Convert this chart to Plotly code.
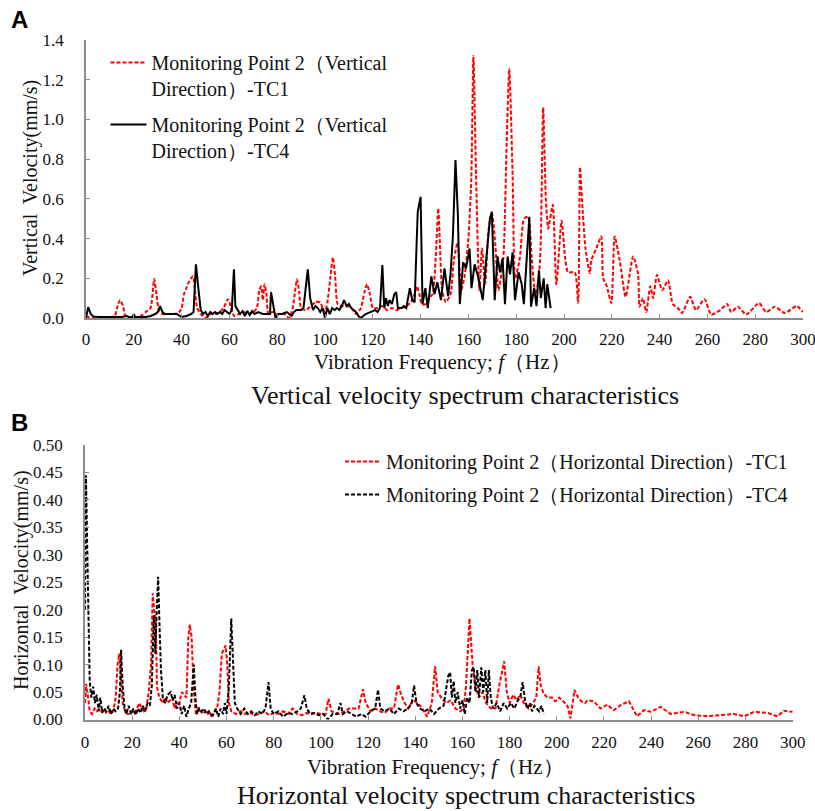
import plotly.graph_objects as go

W, H = 815, 811

# ---------------- data ----------------
# Panel A: vertical velocity spectra
v_tc1_freq = [0, 1, 3, 6, 10, 12, 13, 14.2, 15.5, 16.5,
              18, 20, 23, 25, 27, 28.5, 29.5, 30.5, 32, 35,
              37, 39, 40, 41, 42, 43, 44, 44.8, 45.5, 46.5,
              48, 50, 52, 54, 56, 57.5, 59.4, 60.5, 62, 64,
              66, 68, 70, 71.5, 72.5, 73.3, 74, 74.7, 75.5, 76.3,
              78, 80, 83, 85, 86.5, 87.3, 88.3, 89.2, 90, 92,
              94, 96, 98, 99, 100, 101, 102.2, 103.3, 104.3, 105.3,
              107, 109, 111, 113, 115, 116.5, 117.6, 118.8, 120, 122,
              124, 126, 128, 130, 132, 134, 136, 137.5, 138.5, 139.5,
              140.5, 142, 143.5, 145, 146.3, 147.4, 148.3, 149, 150.5, 152.5,
              154, 155.5, 157, 158.5, 160, 161.2, 162.1, 163.2, 164.6, 165.7,
              167, 168.4, 169.8, 171.2, 172.6, 174.6, 176, 177.1, 178.5, 179.6,
              181.5, 183.3, 185, 186.5, 188, 189.4, 190.2, 191.3, 192.4, 193.4,
              195.3, 196.8, 199, 200.5, 201.7, 204.5, 205.9, 206.7, 207.5, 209,
              210.8, 211.4, 213.5, 215.6, 216.4, 217.9, 219.8, 221.2, 223.3, 225.8,
              228.9, 231, 231.6, 233, 234.4, 236.1, 237.3, 238.9, 241.1, 243.5,
              245.5, 247.6, 249.4, 252.8, 255.2, 258.8, 261.6, 265.4, 268.2, 270,
              272.8, 276.2, 281.6, 284.6, 288.2, 292.4, 297.3, 300]
v_tc1_vel = [0.01, 0.005, 0.003, 0.003, 0.004, 0.01, 0.05, 0.09, 0.06, 0.01,
             0.0, 0.002, 0.01, 0.03, 0.05, 0.196, 0.12, 0.04, 0.02, 0.02,
             0.02, 0.03, 0.05, 0.12, 0.15, 0.18, 0.2, 0.21, 0.15, 0.05,
             0.02, 0.0, 0.02, 0.02, 0.03, 0.05, 0.095, 0.06, 0.01, 0.02,
             0.03, 0.02, 0.03, 0.05, 0.14, 0.16, 0.09, 0.17, 0.12, 0.02,
             0.03, 0.02, 0.02, 0.0, 0.05, 0.12, 0.195, 0.13, 0.05, 0.04,
             0.06, 0.08, 0.08, 0.05, 0.03, 0.08, 0.2, 0.305, 0.2, 0.07,
             0.06, 0.06, 0.05, 0.02, 0.05, 0.13, 0.17, 0.12, 0.05, 0.05,
             0.06, 0.04, 0.05, 0.04, 0.05, 0.06, 0.08, 0.12, 0.16, 0.12,
             0.07, 0.07, 0.1, 0.12, 0.3, 0.552, 0.3, 0.14, 0.08, 0.12,
             0.3, 0.38, 0.14, 0.22, 0.4, 0.7, 1.32, 0.72, 0.14, 0.35,
             0.17, 0.44, 0.53, 0.38, 0.14, 0.3, 0.88, 1.255, 0.72, 0.2,
             0.3, 0.5, 0.51, 0.3, 0.12, 0.2, 0.35, 1.06, 0.6, 0.45,
             0.57, 0.17, 0.49, 0.3, 0.23, 0.23, 0.075, 0.76, 0.6, 0.35,
             0.225, 0.29, 0.35, 0.41, 0.2, 0.16, 0.075, 0.41, 0.29, 0.107,
             0.31, 0.22, 0.057, 0.1, 0.03, 0.16, 0.1, 0.217, 0.14, 0.19,
             0.07, 0.05, 0.025, 0.107, 0.04, 0.095, 0.017, 0.04, 0.07, 0.03,
             0.057, 0.017, 0.075, 0.03, 0.057, 0.025, 0.06, 0.03]

v_tc4_freq = [0, 0.9, 2, 3, 5, 10, 15, 17, 18, 19.5,
              20, 20.5, 25, 27, 29, 30, 31, 32, 33, 38,
              40, 42, 44, 45, 46, 47, 48, 49, 50, 51,
              52, 53, 54, 55, 56, 57, 58, 59, 60, 61,
              61.9, 62.5, 63.5, 64.5, 65.5, 66.5, 67.5, 68.5, 69.5, 70.5,
              72, 74, 76, 77, 77.4, 78.5, 79.3, 80.5, 82, 84,
              86, 87, 88, 90, 91, 92.8, 93.8, 95, 96, 97,
              98, 99, 100, 101, 102, 103, 104, 105, 106, 107,
              108, 109, 110, 111, 112, 113, 114, 115, 117, 119,
              121, 122, 123, 124, 124.8, 125.5, 126.3, 127, 128, 129,
              129.8, 130.5, 132, 133, 134, 135.5, 136.5, 137.5, 138.8, 140,
              140.8, 142, 143, 144.5, 145.8, 147, 148.5, 150, 151.5, 152.5,
              153.5, 154.6, 155.6, 156.4, 157.8, 159, 160.5, 161.3, 162.6, 164,
              166, 167.5, 169, 169.8, 171, 172.2, 173.2, 174.3, 175.3, 176.4,
              177.4, 178.5, 179.5, 181, 182.3, 183.2, 185.5, 186.2, 187.5, 188.5,
              189.5, 190.3, 191.5, 192.3, 193, 194.4]
v_tc4_vel = [0.0, 0.055, 0.02, 0.008, 0.005, 0.005, 0.005, 0.01, 0.005, 0.005,
             0.02, 0.005, 0.005, 0.01, 0.02, 0.03, 0.06, 0.03, 0.02, 0.02,
             0.005, 0.01, 0.02, 0.03, 0.27, 0.15, 0.04, 0.02, 0.03, 0.01,
             0.03, 0.02, 0.03, 0.02, 0.03, 0.02, 0.04, 0.03, 0.02, 0.04,
             0.245, 0.06, 0.04, 0.02, 0.035, 0.01, 0.035, 0.015, 0.035, 0.02,
             0.03, 0.02, 0.02, 0.02, 0.13, 0.06, 0.0, 0.02, 0.02, 0.03,
             0.01, 0.03, 0.04, 0.04, 0.05, 0.245, 0.1, 0.04, 0.06, 0.05,
             0.03, 0.05, 0.0, 0.05, 0.02, 0.05, 0.04, 0.05, 0.04, 0.06,
             0.09, 0.06, 0.07, 0.05, 0.04, 0.03, 0.01, 0.0, 0.02, 0.03,
             0.04, 0.03, 0.05, 0.267, 0.05, 0.1, 0.06, 0.09, 0.07, 0.12,
             0.13, 0.05, 0.05, 0.06, 0.05, 0.15, 0.09, 0.08, 0.535, 0.61,
             0.07, 0.15, 0.05, 0.21, 0.12, 0.18, 0.09, 0.25, 0.11, 0.22,
             0.41, 0.795, 0.52, 0.07, 0.28, 0.25, 0.35, 0.15, 0.27, 0.21,
             0.09, 0.3, 0.5, 0.535, 0.09, 0.31, 0.23, 0.3, 0.07, 0.31,
             0.22, 0.33, 0.09, 0.23, 0.17, 0.07, 0.51, 0.057, 0.15, 0.06,
             0.24, 0.1, 0.2, 0.05, 0.17, 0.05]

# Panel B: horizontal velocity spectra
h_tc1_freq = [0, 0.5, 1.3, 2, 3, 4, 5, 6, 7, 8,
              9, 10, 11, 12, 13, 13.8, 14.5, 15.2, 16, 17,
              18, 19, 20, 21, 22, 23, 24, 25, 26, 27,
              28, 28.7, 29.3, 30, 30.5, 31.5, 33, 34, 35, 36,
              37, 38, 39, 40, 41, 42, 43, 43.8, 44.4, 45.2,
              46, 47, 48, 49, 50, 51, 52, 53, 54, 55,
              56, 57, 58, 59.6, 60.3, 61, 62, 64, 66, 68,
              70, 72, 74, 76, 78, 80, 82, 84, 86, 88,
              90, 92, 94, 96, 98, 100, 102, 103.2, 104.5, 106,
              108, 110, 112, 114, 116, 117.8, 119, 121, 123, 125,
              127, 129, 131, 132.7, 134, 135.5, 137, 139, 141, 143,
              145, 147, 148.4, 149.5, 151, 153, 155, 157, 159, 160.5,
              161.5, 163, 164.3, 165.5, 167, 168.5, 170, 172, 174, 175.5,
              177.7, 178.8, 180, 181.5, 183, 184.5, 186, 188, 190, 191.3,
              192.3, 193.3, 194.5, 196, 198, 199.4, 201, 202.8, 204.5, 205.8,
              207.5, 209, 210.5, 212, 213, 215.7, 218.5, 221.4, 224.2, 227.3,
              230.6, 234, 237, 239.8, 244, 248.3, 254, 258.2, 263.8, 269.5,
              275, 279.5, 283.6, 289.3, 293.5, 296.3, 300]
h_tc1_vel = [0.03, 0.065, 0.04, 0.015, 0.01, 0.02, 0.015, 0.02, 0.015, 0.02,
             0.012, 0.015, 0.01, 0.015, 0.04, 0.1, 0.12, 0.08, 0.03, 0.015,
             0.01, 0.01, 0.015, 0.01, 0.02, 0.03, 0.02, 0.015, 0.02, 0.05,
             0.1, 0.23, 0.2, 0.18, 0.06, 0.04, 0.03, 0.04, 0.03, 0.035,
             0.04, 0.02, 0.03, 0.03, 0.05, 0.045, 0.04, 0.15, 0.173, 0.15,
             0.06, 0.01, 0.02, 0.015, 0.01, 0.015, 0.01, 0.012, 0.005, 0.015,
             0.02, 0.05, 0.12, 0.135, 0.1, 0.03, 0.015, 0.01, 0.015, 0.01,
             0.012, 0.008, 0.01, 0.015, 0.008, 0.012, 0.01, 0.015, 0.01, 0.02,
             0.01, 0.008, 0.012, 0.01, 0.012, 0.01, 0.01, 0.038, 0.015, 0.012,
             0.01, 0.015, 0.02, 0.02, 0.02, 0.055, 0.03, 0.015, 0.02, 0.015,
             0.012, 0.02, 0.02, 0.064, 0.045, 0.03, 0.02, 0.035, 0.03, 0.02,
             0.005, 0.03, 0.097, 0.05, 0.04, 0.03, 0.035, 0.02, 0.015, 0.02,
             0.06, 0.184, 0.1, 0.06, 0.04, 0.05, 0.03, 0.02, 0.02, 0.06,
             0.106, 0.05, 0.03, 0.045, 0.035, 0.045, 0.03, 0.02, 0.03, 0.04,
             0.097, 0.06, 0.047, 0.04, 0.04, 0.033, 0.04, 0.033, 0.025, 0.002,
             0.054, 0.04, 0.033, 0.03, 0.035, 0.033, 0.02, 0.027, 0.017, 0.027,
             0.033, 0.006, 0.017, 0.014, 0.023, 0.01, 0.014, 0.008, 0.006, 0.008,
             0.01, 0.006, 0.014, 0.012, 0.006, 0.016, 0.014]

h_tc4_freq = [0, 0.4, 1, 1.5, 2, 2.7, 3.5, 4.2, 5, 5.8,
              6.5, 7.3, 8, 9, 10, 11, 12, 13, 14, 14.8,
              15.3, 16, 16.8, 17.5, 18.5, 19.5, 20.5, 21.5, 22.5, 23.5,
              24.5, 25.5, 26.5, 27.5, 28.3, 29.2, 29.8, 30.3, 31, 31.6,
              32.2, 33, 34, 35, 36.3, 37.2, 38, 39, 40, 41,
              42, 43, 44, 45, 45.6, 46.1, 46.8, 47.5, 48.5, 49.5,
              50.5, 51.5, 52.5, 53.5, 54.5, 55.5, 56.5, 57.5, 58.5, 59.3,
              60, 61, 62, 62.7, 63.5, 64.5, 66, 67.5, 69, 70.5,
              72, 73.5, 75, 76.5, 77.8, 78.7, 80, 82, 84, 86,
              88, 90, 91.5, 93, 94, 95.5, 97, 99, 101, 103,
              105, 107, 108.3, 109.3, 111, 113, 115, 117, 119, 121,
              123, 124.2, 125.2, 127, 129, 131, 133, 135, 137, 138.5,
              139.5, 140.5, 142, 144, 146, 148, 150, 152, 153, 154,
              154.8, 155.5, 156.3, 157, 158, 159, 160, 161, 162, 163,
              164, 164.8, 165.5, 166.3, 167, 168, 168.8, 169.7, 170.5, 171.2,
              172, 173, 174.5, 176, 177.5, 179, 180.5, 182, 183.5, 184.5,
              185.5, 186.5, 187.5, 188.5, 189.5, 190.5, 191.5, 192.5, 193.5, 194.5]
h_tc4_vel = [0.2, 0.445, 0.3, 0.15, 0.07, 0.04, 0.06, 0.03, 0.045, 0.015,
             0.04, 0.012, 0.02, 0.015, 0.025, 0.01, 0.02, 0.015, 0.02, 0.05,
             0.127, 0.06, 0.02, 0.01, 0.025, 0.01, 0.02, 0.008, 0.02, 0.012,
             0.025, 0.015, 0.03, 0.025, 0.06, 0.19, 0.12, 0.19, 0.26, 0.17,
             0.09, 0.04, 0.03, 0.045, 0.05, 0.035, 0.045, 0.02, 0.03, 0.01,
             0.025, 0.005, 0.02, 0.03, 0.06, 0.1, 0.04, 0.01, 0.02, 0.015,
             0.02, 0.01, 0.015, 0.008, 0.01, 0.02, 0.005, 0.02, 0.01, 0.03,
             0.01, 0.06, 0.184, 0.1, 0.03, 0.02, 0.01, 0.02, 0.01, 0.015,
             0.008, 0.015, 0.01, 0.02, 0.068, 0.02, 0.01, 0.015, 0.005, 0.012,
             0.01, 0.015, 0.02, 0.044, 0.02, 0.01, 0.012, 0.008, 0.01, 0.0,
             0.01, 0.01, 0.03, 0.01, 0.015, 0.01, 0.005, 0.01, 0.005, 0.015,
             0.02, 0.054, 0.02, 0.015, 0.02, 0.01, 0.02, 0.015, 0.02, 0.03,
             0.062, 0.03, 0.02, 0.015, 0.02, 0.01, 0.02, 0.025, 0.05, 0.08,
             0.086, 0.04, 0.07, 0.03, 0.05, 0.02, 0.035, 0.01, 0.04, 0.03,
             0.09, 0.095, 0.05, 0.09, 0.04, 0.095, 0.05, 0.09, 0.03, 0.09,
             0.04, 0.02, 0.03, 0.015, 0.03, 0.02, 0.03, 0.02, 0.035, 0.04,
             0.068, 0.035, 0.02, 0.03, 0.015, 0.025, 0.02, 0.015, 0.025, 0.01]

names_v = ["Monitoring Point 2（Vertical<br>Direction）-TC1",
           "Monitoring Point 2（Vertical<br>Direction）-TC4"]
names_h = ["Monitoring Point 2（Horizontal Direction）-TC1",
           "Monitoring Point 2（Horizontal Direction）-TC4"]

# ---------------- figure ----------------
SERIF = "Liberation Serif"
SANS = "Liberation Sans"


def px(x):
    return x / W


def py(y):
    return 1 - y / H


fig = go.Figure()

fig.add_trace(go.Scatter(x=v_tc1_freq, y=v_tc1_vel, name=names_v[0], mode="lines",
                         line=dict(color="#ff0000", width=2, dash="4px,2px", shape="spline", smoothing=0.6),
                         xaxis="x", yaxis="y", legend="legend", legendgroup="a1"))
fig.add_trace(go.Scatter(x=v_tc4_freq, y=v_tc4_vel, name=names_v[1], mode="lines",
                         line=dict(color="#000000", width=2),
                         xaxis="x", yaxis="y", legend="legend", legendgroup="a2"))
fig.add_trace(go.Scatter(x=h_tc1_freq, y=h_tc1_vel, name=names_h[0], mode="lines",
                         line=dict(color="#ff0000", width=2, dash="4px,2px"),
                         xaxis="x2", yaxis="y2", legend="legend2", legendgroup="b1"))
fig.add_trace(go.Scatter(x=h_tc4_freq, y=h_tc4_vel, name=names_h[1], mode="lines",
                         line=dict(color="#000000", width=2, dash="4px,2px"),
                         xaxis="x2", yaxis="y2", legend="legend2", legendgroup="b2"))


def axis_style(**kw):
    d = dict(showline=True, linecolor="#8c8c8c", linewidth=1.5, ticks="inside",
             ticklen=4, tickwidth=1.2, tickcolor="#8c8c8c", showgrid=False,
             zeroline=False, ticklabeloverflow="allow",
             tickfont=dict(family=SERIF, size=17, color="#111111"))
    d.update(kw)
    return d


fig.update_layout(
    width=W, height=H,
    margin=dict(l=0, r=0, t=0, b=0, pad=0, autoexpand=False),
    font=dict(family=SERIF, size=17, color="#111111"),
    paper_bgcolor="white", plot_bgcolor="white",
    xaxis=axis_style(domain=[px(86), px(803)], anchor="y", range=[0, 300], dtick=20,
                     ticklabelstandoff=5),
    yaxis=axis_style(domain=[py(318), py(40)], anchor="x", range=[0, 1.4], dtick=0.2,
                     tickformat=".1f", ticklabelstandoff=17),
    xaxis2=axis_style(domain=[px(85), px(792.7)], anchor="y2", range=[0, 300], dtick=20,
                      ticklabelstandoff=6),
    yaxis2=axis_style(domain=[py(719.5), py(445)], anchor="x2", range=[0, 0.5], dtick=0.05,
                      tickformat=".2f", ticklabelstandoff=17),
    legend=dict(x=px(105.5), y=py(43), xanchor="left", yanchor="top",
                bgcolor="rgba(0,0,0,0)", font=dict(family=SERIF, size=20, color="#111111"),
                valign="top", tracegroupgap=7, traceorder="grouped", itemwidth=36),
    legend2=dict(x=px(340), y=py(442), xanchor="left", yanchor="top",
                 bgcolor="rgba(0,0,0,0)", font=dict(family=SERIF, size=20, color="#111111"),
                 tracegroupgap=4, traceorder="grouped", itemwidth=36),
    showlegend=True,
)

annots = [
    dict(text="<b>A</b>", x=px(9), y=py(20), font=dict(family=SANS, size=24, color="#000000"),
         xanchor="left", yanchor="middle"),
    dict(text="<b>B</b>", x=px(9), y=py(422), font=dict(family=SANS, size=24, color="#000000"),
         xanchor="left", yanchor="middle"),
    dict(text="Vertical  Velocity(mm/s)", x=px(31), y=py(178), textangle=-90,
         font=dict(family=SERIF, size=20, color="#111111"), xanchor="center", yanchor="middle"),
    dict(text="Horizontal  Velocity(mm/s)", x=px(21), y=py(580), textangle=-90,
         font=dict(family=SERIF, size=20, color="#111111"), xanchor="center", yanchor="middle"),
    dict(text="Vibration Frequency; <i>f</i>（Hz）", x=px(442), y=py(362),
         font=dict(family=SERIF, size=21, color="#111111"), xanchor="center", yanchor="middle"),
    dict(text="Vibration Frequency; <i>f</i>（Hz）", x=px(435), y=py(767),
         font=dict(family=SERIF, size=21, color="#111111"), xanchor="center", yanchor="middle"),
    dict(text="Vertical velocity spectrum characteristics", x=px(465), y=py(395),
         font=dict(family=SERIF, size=26, color="#111111"), xanchor="center", yanchor="middle"),
    dict(text="Horizontal velocity spectrum characteristics", x=px(466), y=py(795),
         font=dict(family=SERIF, size=26, color="#111111"), xanchor="center", yanchor="middle"),
]
for a in annots:
    a.update(xref="paper", yref="paper", showarrow=False)
fig.update_layout(annotations=annots)

fig.write_html("out.html")
